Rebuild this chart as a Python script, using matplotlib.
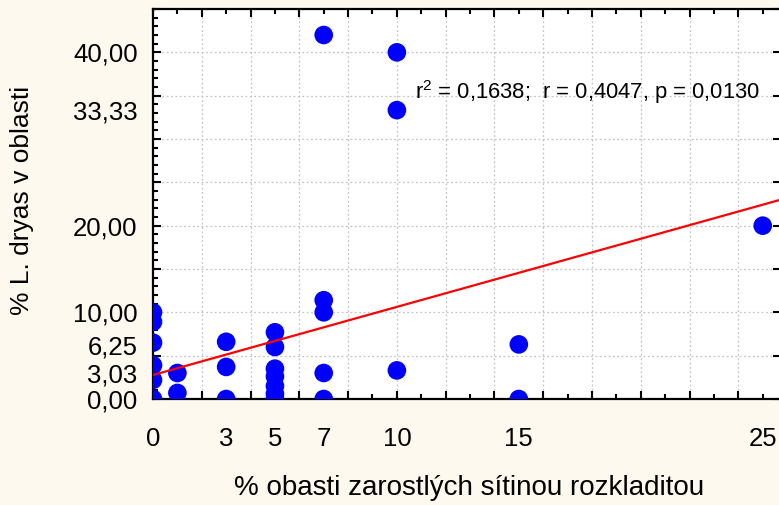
import numpy as np
import matplotlib
matplotlib.use("Agg")
import matplotlib.pyplot as plt
from matplotlib.ticker import MultipleLocator

# Data
x_vals = [0, 0, 0, 0, 0, 0,
          1, 1,
          3, 3, 3,
          5, 5, 5, 5, 5, 5, 5,
          7, 7, 7, 7, 7,
          10, 10, 10,
          15, 15,
          25]
y_vals = [10.0, 8.9, 6.5, 3.9, 2.2, 0.0,
          3.0, 0.7,
          6.6, 3.7, 0.0,
          7.7, 6.0, 3.5, 2.6, 1.5, 0.6, 0.0,
          42.0, 11.4, 10.0, 3.0, 0.0,
          40.0, 33.33, 3.3,
          6.3, 0.0,
          20.0]

fit_intercept = 2.77
fit_slope = 0.786

x_ticklabels = [0, 3, 5, 7, 10, 15, 25]
y_ticklabels = [0.0, 3.03, 6.25, 10.0, 20.0, 33.33, 40.0]

stats_text = r"r$^{2}$ = 0,1638;  r = 0,4047, p = 0,0130"
xlabel = "% obasti zarostlých sítinou rozkladitou"
ylabel = "% L. dryas v oblasti"

plt.rcParams["font.family"] = ["Liberation Sans", "DejaVu Sans"]
plt.rcParams["mathtext.fontset"] = "custom"
plt.rcParams["mathtext.rm"] = "Liberation Sans"
plt.rcParams["mathtext.it"] = "Liberation Sans"

bg = "#fdf9ef"
fig = plt.figure(figsize=(7.79, 5.05), dpi=100, facecolor=bg)
ax = fig.add_axes([153 / 779, 106 / 505, 628 / 779, 390 / 505])
ax.set_facecolor("white")

xmax = 25.75
ax.set_xlim(0, xmax)
ax.set_ylim(0, 45)

# grid & ticks
ax.xaxis.set_major_locator(MultipleLocator(2))
ax.xaxis.set_minor_locator(MultipleLocator(1))
ax.yaxis.set_major_locator(MultipleLocator(5))
ax.yaxis.set_minor_locator(MultipleLocator(1))
ax.grid(True, which="major", color="#c4c4c4", linestyle=(0, (1.5, 2)), linewidth=0.9)
ax.tick_params(which="both", direction="in", top=True, right=True,
               labelbottom=False, labelleft=False, width=1.5, color="black")
ax.tick_params(which="major", length=6)
ax.tick_params(which="minor", length=3.5)
ax.tick_params(axis="y", which="minor", right=False)
for s in ax.spines.values():
    s.set_linewidth(1.6)

# points
ax.scatter(x_vals, y_vals, s=180, color="#0000ff", edgecolors="none", zorder=3, clip_on=True)

# regression line
xl = np.array([0, xmax])
ax.plot(xl, fit_intercept + fit_slope * xl, color="#ff0000", linewidth=1.6, zorder=4)

ax.text(10.75, 34.6, stats_text, fontsize=15.8, va="baseline", ha="left", zorder=5)

# custom tick labels
fmt = lambda v: f"{v:.2f}".replace(".", ",")
sy = ax.secondary_yaxis("left")
sy.set_yticks(y_ticklabels)
sy.set_yticklabels([fmt(v) for v in y_ticklabels])
sy.tick_params(length=0, pad=11, labelsize=18.5)
sy.spines["left"].set_visible(False)

sx = ax.secondary_xaxis("bottom")
sx.set_xticks(x_ticklabels)
sx.set_xticklabels([str(v) for v in x_ticklabels])
sx.tick_params(length=0, pad=20.5, labelsize=18.5)
sx.spines["bottom"].set_visible(False)

ax.set_xlabel(xlabel, fontsize=20)
ax.xaxis.set_label_coords(0.503, -0.195)
ax.xaxis.label.set_va("top")
ax.set_ylabel(ylabel, fontsize=19)
ax.yaxis.set_label_coords(-0.19, 0.51)

fig.savefig("out.png", dpi=100, facecolor=bg)
